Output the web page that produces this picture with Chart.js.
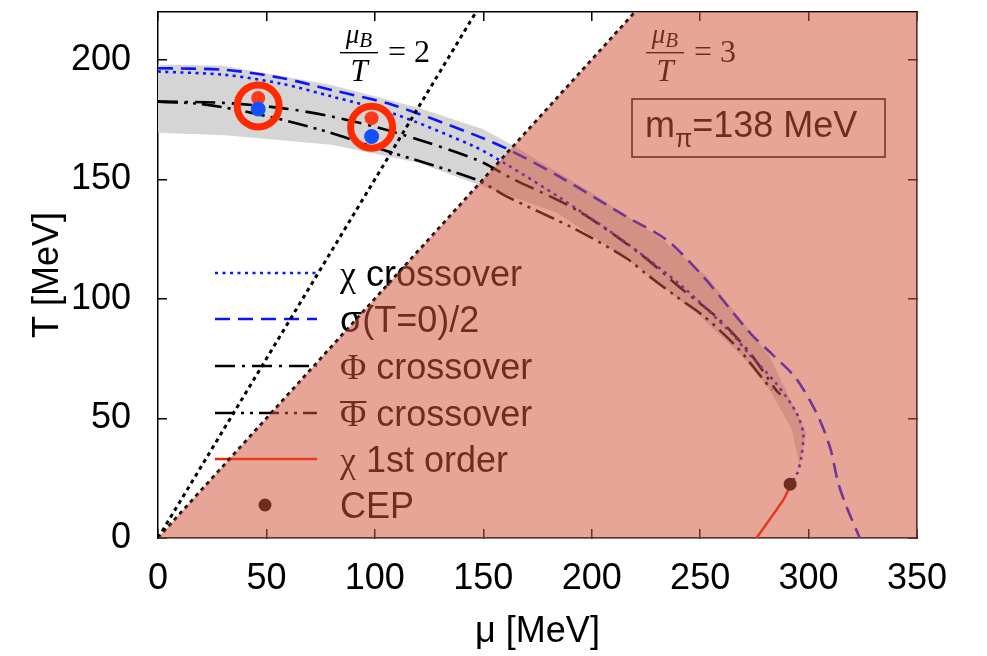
<!DOCTYPE html>
<html>
<head>
<meta charset="UTF-8">
<title>Phase diagram</title>
<script src="https://cdn.jsdelivr.net/npm/chart.js"></script>
<style>
  html, body { margin: 0; padding: 0; background: #fff; }
  #wrap { width: 987px; height: 656px; position: relative; }
</style>
</head>
<body>
<div id="wrap"><canvas id="phaseChart"></canvas></div>
<script>
const SANS = '"Liberation Sans", Arial, Helvetica, sans-serif';
const SERIF = '"Liberation Serif", "Times New Roman", serif';

// axis ticks
const xTicks = [0, 50, 100, 150, 200, 250, 300, 350];
const yTicks = [0, 50, 100, 150, 200];

// curves, [mu, T] in MeV
const chiCross = [[0,195.1],[31,193.7],[57,190],[80,184.7],[108,177.7],[146,163.7],[161,156.1],[185,142.5],[214,124.7],[242,105],[264,86],[273,76.5],[285,64.7],[294.5,52.2],[297.5,43.8],[296.7,34],[294.5,26.4],[291.5,22.5]];
const sigmaHalf = [[0,196.5],[31,195.8],[57,192.4],[80,187.4],[108,181.2],[146,168.6],[162,162.3],[185,151.2],[216,134.4],[234.5,124.7],[251.4,109.3],[273,85.8],[283,77],[294,67],[303.7,52.2],[309.8,38.2],[313.7,22.9],[317.5,13.1],[323.6,0]];
const phiCross = [[0,182.5],[30,182],[57,179.8],[80,176.3],[108,170],[147,158.2],[163,150.5],[193,137.2],[222,119.1],[242,103.8],[259,91.2],[273,77.3],[285,61.9],[287,60]];
const phiBarCross = [[0,182.5],[20,181.5],[45,177.5],[75,170.7],[100,163.4],[147,149.8],[160,143.2],[193,128.9],[216,117],[225,110.5],[239,101],[251.4,93],[266.8,80],[277.5,68.2],[283,62]];
const chiFirst = [[291.5,22.5],[290.6,20.1],[288.3,15.9],[276,0]];
const cep = [[291.5,22.5]];

// grey band (right and left edge, ordered by falling T)
const bandUpper = [[0,198],[30,197.5],[80,189.5],[120,180],[150,171],[165,163.5],[200,144.5],[233,124.5],[253,109.5],[273,86.5],[282,76],[299,44],[296,31.3],[293.7,25.6]];
const bandLower = [[0,198],[0,169.5],[31,168.5],[80,164.5],[120,157],[148.5,147.5],[184,136],[222,113],[250,92.6],[268,77.3],[282,62],[292,46],[295.7,31.3],[293.7,25.6]];

// mu_B/T = 2 and mu_B/T = 3 lines (mu_B = 3 mu)
const muBT2 = [[0,0],[200,300]];
const muBT3 = [[0,0],[350,350]];

// circled lattice points
const ringPts = [[46.2,180.7],[98.5,171.8]];
const redPts = [[46.2,184],[98.5,175.6]];
const bluePts = [[46.2,179.4],[98.5,167.9]];

const pts = arr => arr.map(([x, y]) => ({x, y}));

const BLUE = '#0a14ff';
const RED = '#ff1a00';

const datasets = [
  { id: 'bandU', data: pts(bandUpper), indexAxis: 'y', borderWidth: 0, pointRadius: 0,
    fill: '+1', backgroundColor: '#d5d5d5', order: 30 },
  { id: 'bandL', data: pts(bandLower), indexAxis: 'y', borderWidth: 0, pointRadius: 0,
    fill: false, order: 31 },
  { id: 'mu2', data: pts(muBT2), borderColor: '#000', borderWidth: 3, borderDash: [4, 4],
    pointRadius: 0, fill: false, order: 12 },
  { id: 'mu3', data: pts(muBT3), borderColor: '#000', borderWidth: 3, borderDash: [4, 4],
    pointRadius: 0, fill: false, order: 12 },
  { id: 'chi', data: pts(chiCross), borderColor: BLUE, borderWidth: 2.6, borderDash: [3, 4.5],
    pointRadius: 0, tension: 0.3, fill: false, order: 14 },
  { id: 'sigma', data: pts(sigmaHalf), borderColor: BLUE, borderWidth: 2.6, borderDash: [15, 8],
    pointRadius: 0, tension: 0.3, fill: false, order: 14 },
  { id: 'phi', data: pts(phiCross), borderColor: '#000', borderWidth: 2.6, borderDash: [20, 7, 3, 7],
    pointRadius: 0, tension: 0.3, fill: false, order: 14 },
  { id: 'phibar', data: pts(phiBarCross), borderColor: '#000', borderWidth: 2.6, borderDash: [20, 6, 3, 6, 3, 6],
    pointRadius: 0, tension: 0.3, fill: false, order: 14 },
  { id: 'first', data: pts(chiFirst), borderColor: RED, borderWidth: 2.4,
    pointRadius: 0, tension: 0.2, fill: false, order: 13 },
  { id: 'cep', data: pts(cep), showLine: false, pointRadius: 6.5, pointBackgroundColor: '#000',
    pointBorderWidth: 0, order: 11 },
  // region mu_B/T > 3
  { id: 'shade', data: pts(muBT3), borderWidth: 0, pointRadius: 0, fill: 'origin',
    backgroundColor: 'rgba(208,85,57,0.53)', order: 5 },
  { id: 'rings', data: pts(ringPts), showLine: false, pointRadius: 21, pointBorderWidth: 7,
    pointBorderColor: '#ff2a00', pointBackgroundColor: 'rgba(0,0,0,0)', order: 3 },
  { id: 'red', data: pts(redPts), showLine: false, pointRadius: 7, pointBorderWidth: 0,
    pointBackgroundColor: '#ff3a1a', order: 2 },
  { id: 'blue', data: pts(bluePts), showLine: false, pointRadius: 7.5, pointBorderWidth: 0,
    pointBackgroundColor: '#1450ff', order: 1 }
];

const legendRows = [
  { sym: 'χ', text: ' crossover', ds: 'chi' },
  { sym: '', text: 'σ(T=0)/2', ds: 'sigma' },
  { sym: 'Φ', text: ' crossover', ds: 'phi' },
  { sym: 'Φ', text: ' crossover', ds: 'phibar', bar: true },
  { sym: 'χ', text: ' 1st order', ds: 'first' },
  { sym: '', text: 'CEP', ds: 'cep', dot: true }
];
const legendY = [273, 319, 366, 413, 459, 505];

function findDs(chart, id) {
  return chart.data.datasets.find(d => d.id === id);
}

function fracLabel(ctx, x0, val) {
  const barW = 38, cx = x0 + barW / 2;
  ctx.font = 'italic 27px ' + SERIF;
  const wMu = ctx.measureText('μ').width;
  ctx.font = 'italic 21px ' + SERIF;
  const wB = ctx.measureText('B').width;
  let x = cx - (wMu + wB) / 2;
  ctx.font = 'italic 27px ' + SERIF;
  ctx.fillText('μ', x, 43);
  ctx.font = 'italic 21px ' + SERIF;
  ctx.fillText('B', x + wMu, 47);
  ctx.fillRect(x0, 52, barW, 1.4);
  ctx.font = 'italic 31px ' + SERIF;
  ctx.textAlign = 'center';
  ctx.fillText('T', cx, 81);
  ctx.textAlign = 'left';
  ctx.font = '32px ' + SERIF;
  ctx.fillText('= ' + val, x0 + 48, 62);
}

const decorPlugin = {
  id: 'decor',
  beforeDatasetsDraw(chart) {
    const ctx = chart.ctx;
    ctx.save();
    ctx.fillStyle = '#000';
    ctx.textBaseline = 'alphabetic';

    // legend
    legendRows.forEach((row, i) => {
      const y = legendY[i];
      const ds = findDs(chart, row.ds);
      if (row.dot) {
        ctx.beginPath();
        ctx.arc(265, y, ds.pointRadius, 0, Math.PI * 2);
        ctx.fillStyle = ds.pointBackgroundColor;
        ctx.fill();
      } else {
        ctx.save();
        ctx.strokeStyle = ds.borderColor;
        ctx.lineWidth = ds.borderWidth;
        ctx.setLineDash(ds.borderDash || []);
        ctx.beginPath();
        ctx.moveTo(215, y);
        ctx.lineTo(317, y);
        ctx.stroke();
        ctx.restore();
      }
      ctx.fillStyle = '#000';
      let x = 340;
      if (row.sym) {
        ctx.font = '36px ' + SERIF;
        ctx.fillText(row.sym, x, y + 13);
        const w = ctx.measureText(row.sym).width;
        if (row.bar) ctx.fillRect(x, y - 12, w, 2);
        x += w;
      }
      ctx.font = '36px ' + SANS;
      ctx.fillText(row.text, x, y + 13);
    });

    // mu_B/T labels
    fracLabel(ctx, 340, 2);
    fracLabel(ctx, 646, 3);

    // pion mass box
    ctx.lineWidth = 1.5;
    ctx.strokeStyle = '#000';
    ctx.strokeRect(632, 99, 253, 58);
    ctx.font = '36px ' + SANS;
    ctx.fillText('m', 645, 137);
    let x = 645 + ctx.measureText('m').width;
    ctx.font = '25px ' + SANS;
    ctx.fillText('π', x, 147);
    x += ctx.measureText('π').width;
    ctx.font = '36px ' + SANS;
    ctx.fillText('=138 MeV', x, 137);
    ctx.restore();
  }
};

const tickFont = { family: SANS, size: 36 };
const gridOpts = { drawOnChartArea: false, tickLength: -9, color: '#000', lineWidth: 1.5 };
const borderOpts = { color: '#000', width: 1.5 };

// fixed box sizes, no automatic label padding
function fixSize(prop, val) {
  return s => {
    s[prop] = val;
    s.paddingTop = s.paddingBottom = s.paddingLeft = s.paddingRight = 0;
  };
}

new Chart(document.getElementById('phaseChart'), {
  type: 'line',
  data: { datasets },
  plugins: [decorPlugin],
  options: {
    responsive: true,
    maintainAspectRatio: false,
    animation: false,
    layout: { padding: 0, autoPadding: false },
    plugins: { legend: { display: false }, tooltip: { enabled: false } },
    scales: {
      x: {
        type: 'linear', position: 'bottom', min: 0, max: 350,
        afterBuildTicks: s => { s.ticks = xTicks.map(v => ({ value: v })); },
        afterFit: fixSize('height', 118),
        grid: gridOpts, border: borderOpts,
        ticks: { font: tickFont, color: '#000', padding: 28, maxRotation: 0, autoSkip: false },
        title: { display: true, text: 'μ [MeV]', color: '#000', font: tickFont, padding: { top: 0, bottom: 2 } }
      },
      y: {
        type: 'linear', position: 'left', min: 0, max: 220,
        afterBuildTicks: s => { s.ticks = yTicks.map(v => ({ value: v })); },
        afterFit: fixSize('width', 158),
        grid: gridOpts, border: borderOpts,
        ticks: { font: tickFont, color: '#000', padding: 36, autoSkip: false },
        title: { display: true, text: 'T [MeV]', color: '#000', font: tickFont, padding: { top: 26, bottom: 0 } }
      },
      x2: {
        type: 'linear', position: 'top', min: 0, max: 350,
        afterBuildTicks: s => { s.ticks = xTicks.map(v => ({ value: v })); },
        afterFit: fixSize('height', 12),
        grid: gridOpts, border: borderOpts,
        ticks: { display: false }
      },
      y2: {
        type: 'linear', position: 'right', min: 0, max: 220,
        afterBuildTicks: s => { s.ticks = yTicks.map(v => ({ value: v })); },
        afterFit: fixSize('width', 70),
        grid: gridOpts, border: borderOpts,
        ticks: { display: false }
      }
    }
  }
});
</script>
</body>
</html>
